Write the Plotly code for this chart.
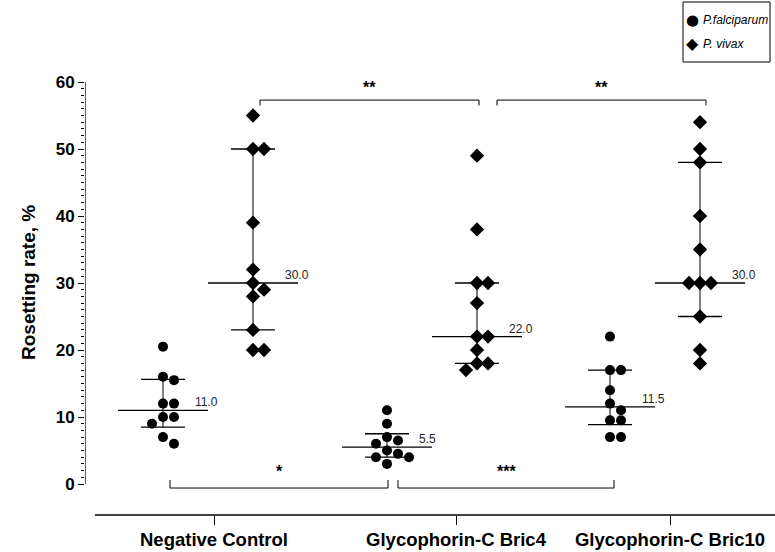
import numpy as np
import plotly.graph_objects as go

# ---------------- data ----------------
categories = ["Negative Control", "Glycophorin-C Bric4", "Glycophorin-C Bric10"]
pf_values = [
    [20.5, 16, 15.5, 12, 12, 10, 10, 9, 7, 6],
    [11, 9, 7, 6.5, 6, 5, 4.5, 4, 4, 3],
    [22, 17, 17, 14, 12, 11, 9.5, 9.5, 7, 7],
]
pv_values = [
    [55, 50, 50, 39, 32, 30, 29, 28, 23, 20, 20],
    [49, 38, 30, 30, 27, 22, 22, 20, 18, 18, 17],
    [54, 50, 48, 40, 35, 30, 30, 30, 25, 20, 18],
]
series_names = ["P.falciparum", "P. vivax"]
y_ticks = [0, 10, 20, 30, 40, 50, 60]
sig_top = ["**", "**"]      # P. vivax comparisons
sig_bottom = ["*", "***"]   # P. falciparum comparisons

# ---------------- layout constants (pixels) ----------------
W, H = 775, 552
L, B = 85, 37            # plot area: x from 85 to 775, y from 0 to 515
PX_PER_UNIT = 6.7
ZERO_PX = 484            # pixel row of y = 0
plot_h = H - B
y_lo = (ZERO_PX - plot_h) / PX_PER_UNIT
y_hi = ZERO_PX / PX_PER_UNIT

group_x = [208, 432, 655]
col_off = 45
tick_x = [214, 456, 670]
MED_HALF, CAP_HALF = 45, 22
STEP = 11.0              # beeswarm step (px)
DIAM = 10.0


def px_x(p):
    return (p - L) / (W - L)


def px_y(p):
    return (plot_h - p) / plot_h


def beeswarm(vals):
    order = np.argsort(-np.asarray(vals), kind="stable")
    placed = []
    offs = [0.0] * len(vals)
    cands = [0, 1, -1, 2, -2, 3, -3]
    for i in order:
        ypx = vals[i] * PX_PER_UNIT
        for c in cands:
            xo = c * STEP
            ok = all((xo - px) ** 2 + (ypx - py) ** 2 >= DIAM ** 2 for px, py in placed)
            if ok:
                offs[i] = xo
                placed.append((xo, ypx))
                break
    return offs


fig = go.Figure()
shapes = []
annotations = []

for s, (values, sym, size, xoff) in enumerate([
    (pf_values, "circle", 10, -col_off),
    (pv_values, "diamond", 11, col_off),
]):
    xs, ys = [], []
    for g, vals in enumerate(values):
        cx = group_x[g] + xoff
        offs = beeswarm(vals)
        xs += [cx + o for o in offs]
        ys += list(vals)
        med = float(np.median(vals))
        q1, q3 = np.percentile(vals, [25, 75], method="weibull")
        line = dict(color="black", width=1.3)
        fig.add_trace(go.Scatter(x=[cx - MED_HALF, cx + MED_HALF], y=[med, med], mode="lines",
                                 line=line, showlegend=False, hoverinfo="skip"))
        for q in (q1, q3):
            fig.add_trace(go.Scatter(x=[cx - CAP_HALF, cx + CAP_HALF], y=[q, q], mode="lines",
                                     line=line, showlegend=False, hoverinfo="skip"))
        fig.add_trace(go.Scatter(x=[cx, cx], y=[q1, q3], mode="lines",
                                 line=dict(color="black", width=1), showlegend=False, hoverinfo="skip"))
        annotations.append(dict(x=cx + 30, y=med, xref="x", yref="y", text=f"{med:.1f}",
                                showarrow=False, xanchor="left", yanchor="middle", yshift=8,
                                font=dict(size=12, color="#222222")))
    fig.add_trace(go.Scatter(x=xs, y=ys, mode="markers", name=series_names[s],
                             marker=dict(symbol=sym, size=size, color="black"),
                             showlegend=False, cliponaxis=False))


def bracket(label, x0, x1, ylev, tick, ytxt):
    shapes.append(dict(type="path", xref="x", yref="y",
                       path=f"M {x0},{ylev + tick} L {x0},{ylev} L {x1},{ylev} L {x1},{ylev + tick}",
                       line=dict(color="black", width=1)))
    annotations.append(dict(x=(x0 + x1) / 2, y=ytxt, xref="x", yref="y", text=f"<b>{label}</b>",
                            showarrow=False, font=dict(size=16, color="black")))


top_x = [(260, 479), (497, 706)]
for lab, (x0, x1) in zip(sig_top, top_x):
    bracket(lab, x0, x1, 57.3, -0.8, 59.2)
bot_x = [(170, 388), (398, 614)]
for lab, (x0, x1) in zip(sig_bottom, bot_x):
    bracket(lab, x0, x1, -0.6, 1.2, 1.9)

# y axis spine (only 0..60)
shapes.append(dict(type="line", xref="x", yref="y", x0=L, x1=L, y0=0, y1=60,
                   line=dict(color="black", width=1.3)))
# x axis line
shapes.append(dict(type="line", xref="x", yref="paper", x0=95, x1=W, y0=0, y1=0,
                   line=dict(color="black", width=1.3)))

# legend box (manual)
shapes.append(dict(type="rect", xref="paper", yref="paper",
                   x0=px_x(683), x1=px_x(770), y0=px_y(62), y1=px_y(2),
                   line=dict(color="black", width=1), fillcolor="white"))
for i, (name, glyph, gsize) in enumerate([(series_names[0], "●", 15), (series_names[1], "◆", 16)]):
    yy = px_y(20 + 24 * i)
    annotations.append(dict(x=px_x(692), y=yy, xref="paper", yref="paper", text=glyph,
                            showarrow=False, xanchor="center", yanchor="middle",
                            font=dict(size=gsize, color="black", family="DejaVu Sans")))
    annotations.append(dict(x=px_x(701), y=yy, xref="paper", yref="paper", text=f"<i>{name}</i>",
                            showarrow=False, xanchor="left", yanchor="middle",
                            font=dict(size=12, color="black")))

annotations.append(dict(x=px_x(28), y=30, xref="paper", yref="y", text="<b>Rosetting rate, %</b>",
                        textangle=-90, showarrow=False, xanchor="center", yanchor="middle",
                        font=dict(size=19, color="black")))

fig.update_layout(
    width=W, height=H,
    margin=dict(l=L, r=0, t=0, b=B, pad=0),
    paper_bgcolor="white", plot_bgcolor="white",
    font=dict(family="Liberation Sans, Arial, sans-serif", color="black"),
    shapes=shapes, annotations=annotations, showlegend=False,
    xaxis=dict(range=[L, W], showgrid=False, zeroline=False, showline=False,
               tickmode="array", tickvals=tick_x,
               ticktext=[f"<b>{c}</b>" for c in categories],
               ticks="outside", ticklen=9, tickcolor="black", tickwidth=1.3,
               ticklabelstandoff=-1,
               tickfont=dict(size=18.5, color="black")),
    yaxis=dict(range=[y_lo, y_hi], showgrid=False, zeroline=False, showline=False,
               tickmode="array", tickvals=y_ticks,
               ticktext=[f"<b>{v}</b>" for v in y_ticks],
               ticks="outside", ticklen=6, tickcolor="black", tickwidth=1.3,
               tickfont=dict(size=17, color="black"),
               minor=dict(tickmode="array", tickvals=[v for v in range(0, 61) if v % 10],
                          ticks="outside", ticklen=3, tickcolor="black", tickwidth=1)),
)

fig.write_html("out.html")
